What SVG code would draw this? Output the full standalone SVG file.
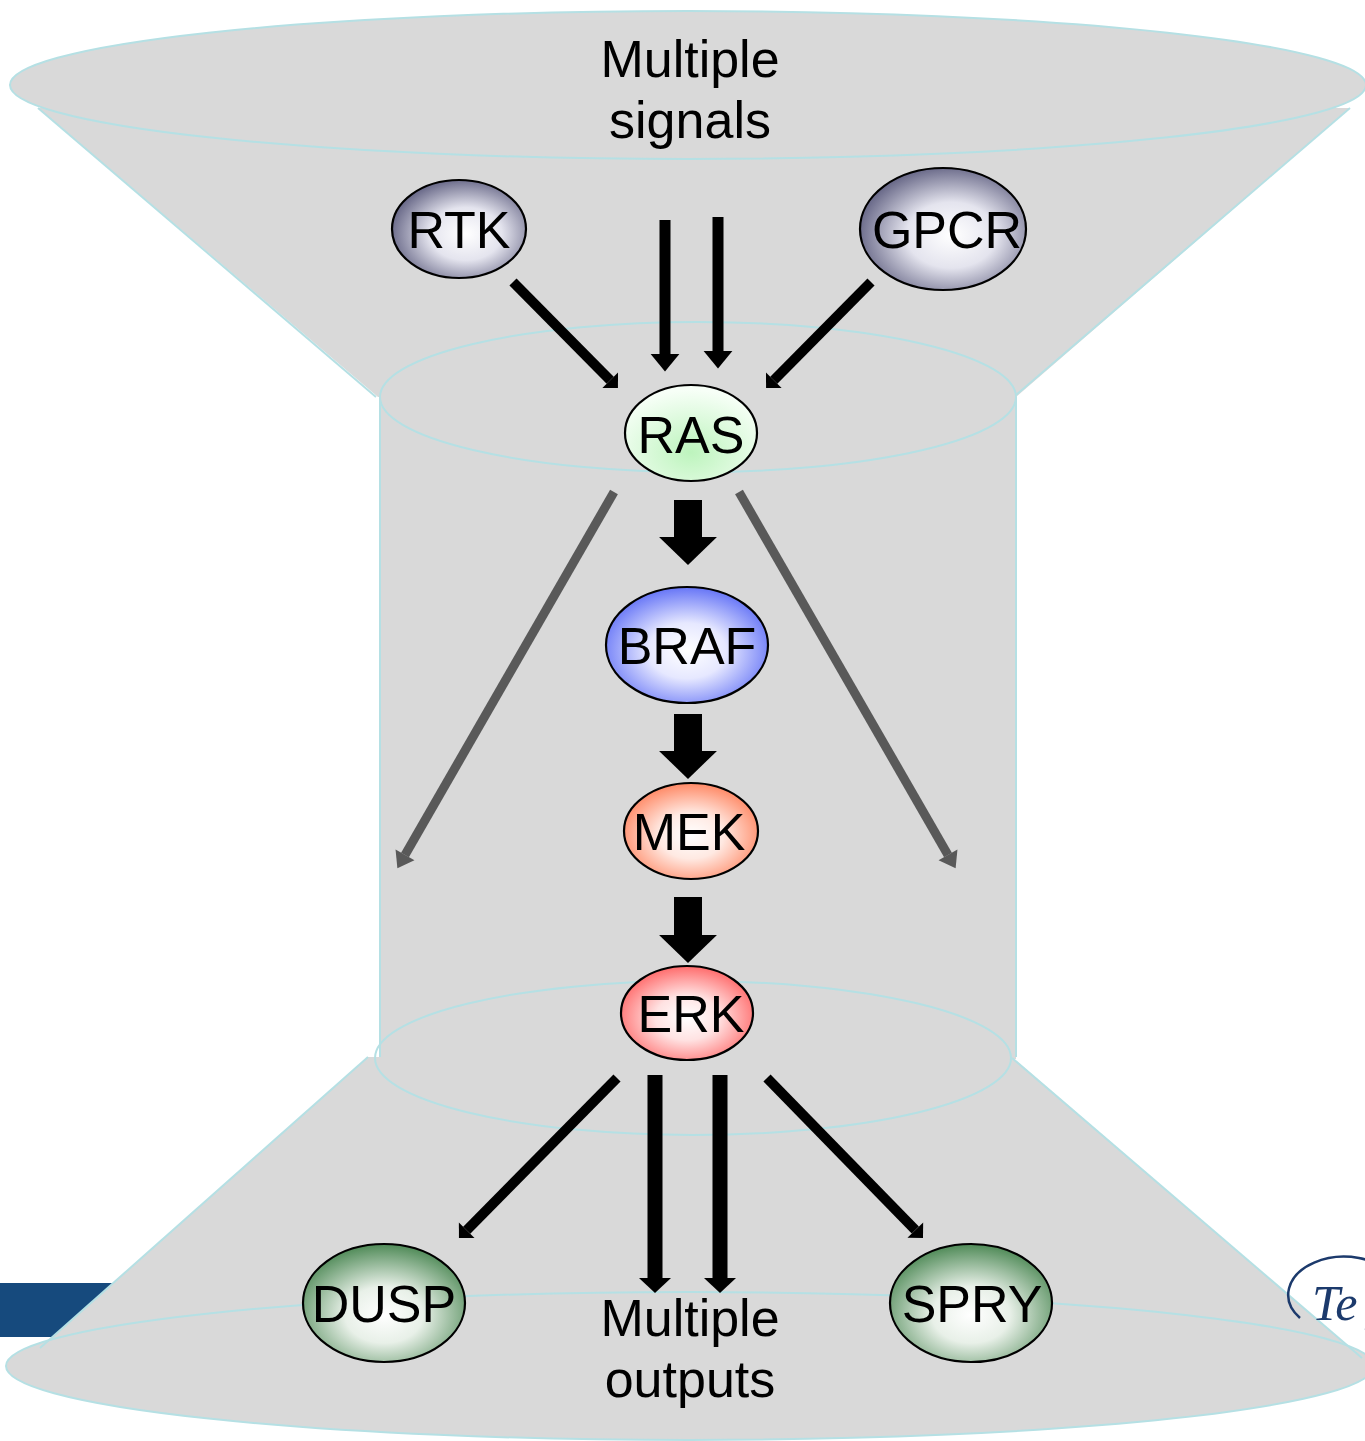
<svg xmlns="http://www.w3.org/2000/svg" width="1365" height="1441" viewBox="0 0 1365 1441">
<style>
.cone{fill:#d9d9d9;stroke:none}
.edge{fill:none;stroke:#b5e0e4;stroke-width:2}
.node{stroke:#000;stroke-width:2.2}
.lbl{font-family:"Liberation Sans",Arial,sans-serif;font-size:52px;fill:#000;text-anchor:middle}
.blk{stroke:#000;fill:none}
.gry{stroke:#595959;fill:none;stroke-width:9}
</style>
<defs>
<radialGradient id="gSlate" cx="55%" cy="55%" r="60%"><stop offset="0" stop-color="#ffffff"/><stop offset="0.45" stop-color="#e4e4ee"/><stop offset="1" stop-color="#5a5a7c"/></radialGradient>
<radialGradient id="gRas" cx="50%" cy="70%" r="65%"><stop offset="0" stop-color="#bdf4bd"/><stop offset="1" stop-color="#f7fff7"/></radialGradient>
<radialGradient id="gBraf" cx="50%" cy="55%" r="60%"><stop offset="0" stop-color="#ffffff"/><stop offset="0.4" stop-color="#e6e8ff"/><stop offset="1" stop-color="#5263f5"/></radialGradient>
<radialGradient id="gMek" cx="50%" cy="55%" r="60%"><stop offset="0" stop-color="#ffffff"/><stop offset="0.4" stop-color="#ffe9e2"/><stop offset="1" stop-color="#ff7a52"/></radialGradient>
<radialGradient id="gErk" cx="50%" cy="55%" r="60%"><stop offset="0" stop-color="#ffffff"/><stop offset="0.4" stop-color="#ffe2e2"/><stop offset="1" stop-color="#ff5959"/></radialGradient>
<radialGradient id="gGreen" cx="50%" cy="60%" r="60%"><stop offset="0" stop-color="#ffffff"/><stop offset="0.4" stop-color="#e8f0e8"/><stop offset="1" stop-color="#4f8a57"/></radialGradient>
<filter id="soft" x="-30%" y="-30%" width="160%" height="160%"><feGaussianBlur stdDeviation="5"/></filter>
<marker id="hSmall" markerUnits="userSpaceOnUse" markerWidth="24" markerHeight="24" viewBox="0 -12 12 24" refX="0" refY="0" orient="auto"><path d="M0,-11 L11,0 L0,11 z" fill="#000"/></marker>
<marker id="hTop" markerUnits="userSpaceOnUse" markerWidth="30" markerHeight="30" viewBox="0 -12 15 24" refX="0" refY="0" orient="auto"><path d="M0,-11.5 L14,0 L0,11.5 z" fill="#000"/></marker>
<marker id="hBot" markerUnits="userSpaceOnUse" markerWidth="34" markerHeight="34" viewBox="0 -17 16 34" refX="0" refY="0" orient="auto"><path d="M0,-16 L15,0 L0,16 z" fill="#000"/></marker>
<marker id="hBig" markerUnits="userSpaceOnUse" markerWidth="60" markerHeight="60" viewBox="0 -29 28 58" refX="0" refY="0" orient="auto"><path d="M0,-28 L27,0 L0,28 z" fill="#000"/></marker>
<marker id="hGray" markerUnits="userSpaceOnUse" markerWidth="24" markerHeight="24" viewBox="0 -11 15 22" refX="0" refY="0" orient="auto"><path d="M0,-10 L14,0 L0,10 z" fill="#595959"/></marker>
</defs>

<rect x="0" y="0" width="1365" height="1441" fill="#ffffff"/>

<g id="background">
<rect x="0" y="1283" width="300" height="54" fill="#164a7d"/>
<ellipse class="cone" cx="688" cy="85" rx="678" ry="74"/>
<polygon class="cone" points="38,108 1350,108 1016,397 378,397"/>
<rect class="cone" x="379" y="397" width="637" height="662"/>
<ellipse class="cone" cx="698" cy="397" rx="318" ry="75"/>
<polygon class="cone" points="368,1057 1012,1057 1362,1358 40,1348"/>
<ellipse class="cone" cx="690" cy="1366" rx="684" ry="74"/>
<ellipse class="edge" cx="688" cy="85" rx="678" ry="74"/>
<line class="edge" x1="38" y1="108" x2="376" y2="397"/>
<line class="edge" x1="1350" y1="108" x2="1016" y2="395"/>
<ellipse class="edge" cx="698" cy="397" rx="318" ry="75"/>
<line class="edge" x1="380" y1="397" x2="380" y2="1057"/>
<line class="edge" x1="1016" y1="397" x2="1016" y2="1057"/>
<ellipse class="edge" cx="693" cy="1058" rx="318" ry="77"/>
<line class="edge" x1="368" y1="1057" x2="40" y2="1348"/>
<line class="edge" x1="1012" y1="1058" x2="1362" y2="1358"/>
<ellipse class="edge" cx="690" cy="1366" rx="684" ry="74"/>
<text class="lbl" x="690" y="77">Multiple</text>
<text class="lbl" x="690" y="138">signals</text>
<text class="lbl" x="690" y="1336">Multiple</text>
<text class="lbl" x="690" y="1397">outputs</text>
</g>

<g id="logo">
<path d="M1290,1246 L1365,1246 L1365,1318 L1330,1318 Z" fill="#ffffff" opacity="0.75" filter="url(#soft)"/>
<path d="M1300,1318 A56,38 0 1 1 1365,1330" fill="none" stroke="#1c3a6c" stroke-width="2.5"/>
<text x="1312" y="1320" font-family="Liberation Serif,serif" font-style="italic" font-size="50" fill="#1c3a6c">Te</text>
</g>

<g id="connectors">
<line class="blk" stroke-width="10" x1="513" y1="282" x2="610.2" y2="380.2" marker-end="url(#hSmall)"/>
<line class="blk" stroke-width="10" x1="871" y1="282" x2="773.8" y2="380.2" marker-end="url(#hSmall)"/>
<line class="blk" stroke-width="11" x1="665" y1="220" x2="665" y2="354" marker-end="url(#hTop)"/>
<line class="blk" stroke-width="11" x1="718" y1="217" x2="718" y2="351" marker-end="url(#hTop)"/>
<line class="gry" x1="614" y1="492" x2="405" y2="854.9" marker-end="url(#hGray)"/>
<line class="gry" x1="739" y1="492" x2="948" y2="854.9" marker-end="url(#hGray)"/>
<line class="blk" stroke-width="28" x1="688" y1="500" x2="688" y2="537" marker-end="url(#hBig)"/>
<line class="blk" stroke-width="28" x1="688" y1="714" x2="688" y2="751" marker-end="url(#hBig)"/>
<line class="blk" stroke-width="28" x1="688" y1="897" x2="688" y2="935" marker-end="url(#hBig)"/>
<line class="blk" stroke-width="10" x1="617" y1="1078" x2="466.7" y2="1230.2" marker-end="url(#hSmall)"/>
<line class="blk" stroke-width="10" x1="767" y1="1078" x2="915.3" y2="1230.1" marker-end="url(#hSmall)"/>
<line class="blk" stroke-width="15" x1="655" y1="1075" x2="655" y2="1278" marker-end="url(#hBot)"/>
<line class="blk" stroke-width="15" x1="720" y1="1075" x2="720" y2="1278" marker-end="url(#hBot)"/>
</g>

<g id="RTK"><ellipse class="node" cx="459" cy="229" rx="67" ry="49" fill="url(#gSlate)"/><text class="lbl" x="459" y="248">RTK</text></g>
<g id="GPCR"><ellipse class="node" cx="943" cy="229" rx="83" ry="61" fill="url(#gSlate)"/><text class="lbl" x="947" y="248">GPCR</text></g>
<g id="RAS"><ellipse class="node" cx="691" cy="433" rx="66" ry="48" fill="url(#gRas)"/><text class="lbl" x="691" y="453">RAS</text></g>
<g id="BRAF"><ellipse class="node" cx="687" cy="645" rx="81" ry="58" fill="url(#gBraf)"/><text class="lbl" x="687" y="664">BRAF</text></g>
<g id="MEK"><ellipse class="node" cx="691" cy="831" rx="67" ry="48" fill="url(#gMek)"/><text class="lbl" x="689" y="850">MEK</text></g>
<g id="ERK"><ellipse class="node" cx="687" cy="1013" rx="66" ry="47" fill="url(#gErk)"/><text class="lbl" x="691" y="1032">ERK</text></g>
<g id="DUSP"><ellipse class="node" cx="384" cy="1303" rx="81" ry="59" fill="url(#gGreen)"/><text class="lbl" x="384" y="1322">DUSP</text></g>
<g id="SPRY"><ellipse class="node" cx="971" cy="1303" rx="81" ry="59" fill="url(#gGreen)"/><text class="lbl" x="972" y="1322">SPRY</text></g>
</svg>
